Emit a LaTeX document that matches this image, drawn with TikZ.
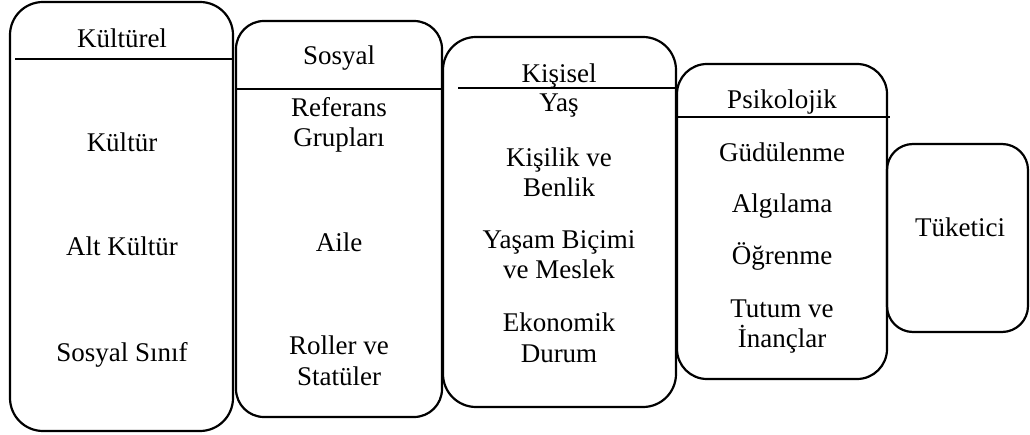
\documentclass[tikz,border=0pt]{standalone}
\usepackage{fontspec}
\setmainfont{Liberation Serif}
\begin{document}
\begin{tikzpicture}[x=1pt,y=-1pt,
  panel/.style={draw=black,line width=2.2pt},
  rule/.style={draw=black,line width=1.7pt},
  lbl/.style={anchor=base,inner sep=0pt,align=center,
    font=\fontsize{27}{30.5}\selectfont}]
\useasboundingbox (0,0) rectangle (1030,435);

% factor panels
\draw[panel,rounded corners=33pt] (10,2) rectangle (233,431);
\draw[panel,rounded corners=28pt] (236,21) rectangle (442,417);
\draw[panel,rounded corners=33pt] (443,37) rectangle (676,407);
\draw[panel,rounded corners=30pt] (677,64) rectangle (887,379);
\draw[panel,rounded corners=26pt] (887,144) rectangle (1028,332);

% heading rules
\coordinate (r1a) at (15,59);  \coordinate (r1b) at (233,59);
\coordinate (r2a) at (236,89); \coordinate (r2b) at (442,89);
\coordinate (r3a) at (458,88); \coordinate (r3b) at (676,88);
\coordinate (r4a) at (677,117);\coordinate (r4b) at (890,117);
\draw[rule] (r1a) -- (r1b);
\draw[rule] (r2a) -- (r2b);
\draw[rule] (r3a) -- (r3b);
\draw[rule] (r4a) -- (r4b);

% cultural (two-line labels are placed by their last baseline)
\node[lbl] (kh) at (122,48) {Kültürel};
\node[lbl] (k1) at (122,152) {Kültür};
\node[lbl] (k2) at (122,256) {Alt Kültür};
\node[lbl] (k3) at (122,361) {Sosyal Sınıf};

% social
\node[lbl] (sh) at (339,65) {Sosyal};
\node[lbl] (s1) at (339,147) {Referans\\Grupları};
\node[lbl] (s2) at (339,252) {Aile};
\node[lbl] (s3) at (339,385) {Roller ve\\Statüler};

% personal
\node[lbl] (ph) at (559,83) {Kişisel};
\node[lbl] (p1) at (559,112) {Yaş};
\node[lbl] (p2) at (559,197) {Kişilik ve\\Benlik};
\node[lbl] (p3) at (559,279) {Yaşam Biçimi\\ve Meslek};
\node[lbl] (p4) at (559,362) {Ekonomik\\Durum};

% psychological
\node[lbl] (yh) at (782,109) {Psikolojik};
\node[lbl] (y1) at (782,162) {Güdülenme};
\node[lbl] (y2) at (782,213) {Algılama};
\node[lbl] (y3) at (782,265) {Öğrenme};
\node[lbl] (y4) at (782,348) {Tutum ve\\İnançlar};

% consumer
\node[lbl] (tk) at (960,237) {Tüketici};
\end{tikzpicture}
\end{document}
